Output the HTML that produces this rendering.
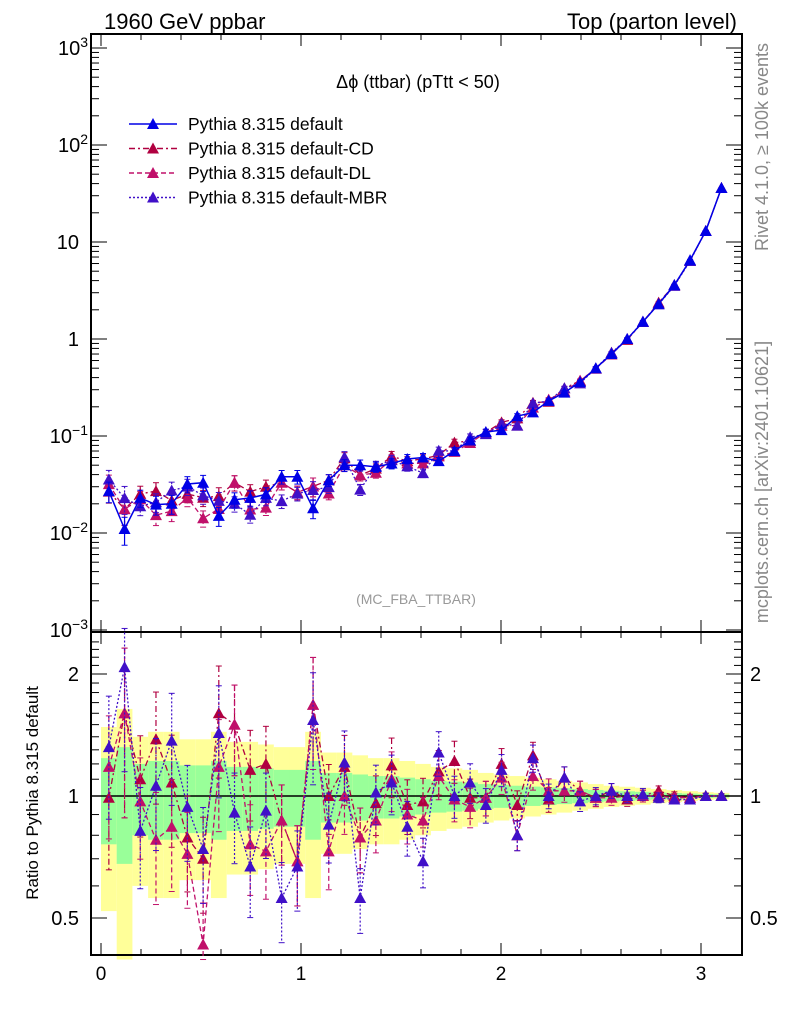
<!DOCTYPE html>
<html><head><meta charset="utf-8"><style>
body{margin:0;background:#fff;}
svg text{font-family:"Liberation Sans",sans-serif;}
</style></head><body>
<svg id="chart" width="786" height="1024" xmlns="http://www.w3.org/2000/svg">
<g id="bands"></g>
<g id="axes"></g>
<g id="series"></g>
<text x="104" y="29" font-size="22">1960 GeV ppbar</text>
<text x="737" y="29" font-size="22" text-anchor="end">Top (parton level)</text>
<text x="418" y="88" font-size="18" text-anchor="middle">Δϕ (ttbar) (pTtt &lt; 50)</text>
<text x="416" y="604" font-size="14" fill="#999" text-anchor="middle">(MC_FBA_TTBAR)</text>
<text transform="translate(768,147) rotate(-90)" font-size="18" fill="#888" text-anchor="middle">Rivet 4.1.0, ≥ 100k events</text>
<text transform="translate(768,482) rotate(-90)" font-size="18" fill="#888" text-anchor="middle">mcplots.cern.ch [arXiv:2401.10621]</text>
<text transform="translate(38,793) rotate(-90)" font-size="17" text-anchor="middle">Ratio to Pythia 8.315 default</text>
<g id="legend"></g>
</svg>
<script>
const nbins = 40;
const defVals = [0.027,0.011,0.023,0.0196,0.02,0.032,0.033,0.015,0.022,0.023,0.025,0.038,0.038,0.018,0.035,0.05,0.05,0.048,0.052,0.058,0.06,0.055,0.07,0.09,0.11,0.115,0.16,0.175,0.23,0.28,0.36,0.5,0.7,1.0,1.5,2.3,3.6,6.5,13,36];
const defErr = [0.24,0.32,0.2,0.22,0.22,0.19,0.19,0.22,0.18,0.18,0.17,0.16,0.16,0.22,0.14,0.14,0.13,0.12,0.12,0.11,0.1,0.09,0.085,0.08,0.07,0.065,0.06,0.055,0.05,0.045,0.04,0.035,0.03,0.027,0.024,0.02,0.017,0.014,0.011,0.009];
const ratioCD = [0.99,1.6,1.1,1.38,1.08,0.79,0.7,1.6,1.5,1.16,1.2,0.87,0.69,1.68,1.0,1.18,0.79,0.96,1.19,0.95,0.97,1.15,1.22,0.99,0.99,1.2,0.95,1.26,0.98,1.11,1.03,0.99,1.03,0.98,1.0,1.03,1.0,0.99,1.0,1.0];
const ratioDL = [1.18,1.6,0.97,0.78,0.84,0.72,0.43,1.18,1.5,0.76,0.73,0.87,0.69,1.68,0.73,1.0,0.79,0.87,1.1,0.9,0.87,1.12,0.98,0.94,0.99,1.11,0.8,1.12,1.03,1.03,1.03,0.99,0.99,1.0,1.0,1.0,0.99,0.99,1.0,1.0];
const ratioMBR = [1.32,2.08,0.82,1.06,1.37,0.94,0.74,1.43,0.91,0.67,0.92,0.56,0.67,1.54,0.85,1.21,0.56,1.02,1.08,0.84,0.69,1.28,1.0,1.08,0.95,1.16,0.8,1.24,1.0,1.11,0.97,1.0,1.03,1.0,1.01,0.99,0.98,0.98,1.0,1.0];
const xTicks = [0,1,2,3];
const yMainTicks = [3,2,1,0,-1,-2,-3];
const yRatioTicks = [2,1,0.5];

const NS="http://www.w3.org/2000/svg";
const X0=91,X1=742,MT=34,MB=632,RT=632,RB=955;
const xmin=-0.05,xmax=3.205;
const xs=v=>X0+(v-xmin)/(xmax-xmin)*(X1-X0);
const ys=v=>48+(3-Math.log10(v))*97;
const rmin=0.403,rmax=2.54;
const yr=v=>{v=Math.max(rmin*0.98,Math.min(rmax*1.02,v));return 674+(Math.log2(2)-Math.log2(v))*122;};
const bw=Math.PI/nbins;
function mk(tag,attrs,parent){const e=document.createElementNS(NS,tag);for(const k in attrs)e.setAttribute(k,attrs[k]);parent.appendChild(e);return e;}
const axes=document.getElementById('axes'),bands=document.getElementById('bands'),ser=document.getElementById('series'),leg=document.getElementById('legend');

for(let i=0;i<nbins;i++){
  const x0=xs(i*bw),x1=xs((i+1)*bw),s=defErr[i];
  const ylo=Math.max(1-2*s,rmin*0.9);
  let r=mk('rect',{x:x0,y:yr(1+2*s),width:x1-x0,height:yr(ylo)-yr(1+2*s),fill:'#ffff99'},bands);
  
  
  r=mk('rect',{x:x0,y:yr(1+s),width:x1-x0,height:yr(1-s)-yr(1+s),fill:'#99ff99'},bands);
  
  
}
mk('rect',{x:X0,y:MT,width:X1-X0,height:MB-MT,fill:'none',stroke:'#000','stroke-width':2},axes);
mk('rect',{x:X0,y:RT,width:X1-X0,height:RB-RT,fill:'none',stroke:'#000','stroke-width':2},axes);
mk('line',{x1:X0,x2:X1,y1:yr(1),y2:yr(1),stroke:'#000','stroke-width':1.5},axes);
for(let v=0;v<=3.2;v+=0.2){
  const big=Math.abs(v-Math.round(v))<1e-6,L=big?12:6,x=xs(v);
  [[MT,1],[MB,-1],[RT,1],[RB,-1]].forEach(([y,d])=>mk('line',{x1:x,x2:x,y1:y,y2:y+d*L,stroke:'#000','stroke-width':1},axes));
}
xTicks.forEach(v=>{const t=mk('text',{x:xs(v),y:980,'font-size':19,'text-anchor':'middle'},axes);t.textContent=v;
 });
yMainTicks.forEach(p=>{
  const y=ys(Math.pow(10,p));
  mk('line',{x1:X0,x2:X0+16,y1:y,y2:y,stroke:'#000'},axes);mk('line',{x1:X1,x2:X1-16,y1:y,y2:y,stroke:'#000'},axes);
  if(p>-3)for(let k=2;k<10;k++){const yy=ys(k*Math.pow(10,p-1));mk('line',{x1:X0,x2:X0+8,y1:yy,y2:yy,stroke:'#000'},axes);mk('line',{x1:X1,x2:X1-8,y1:yy,y2:yy,stroke:'#000'},axes);}
  const t=mk('text',{x:79,y:y+7,'font-size':20,'text-anchor':'end'},axes);
  
  if(p===1)t.textContent='10';else if(p===0)t.textContent='1';
  else{t.textContent='10';const s=mk('tspan',{dy:-8,'font-size':14},t);s.textContent=String(p).replace('-','−');t.setAttribute('x',88);}
});
for(let v=0.5;v<=2.5;v+=0.1){const y=yr(v);if(y<RT||y>RB)continue;const big=[0.5,1,2].some(b=>Math.abs(b-v)<1e-6);const L=big?16:8;
 mk('line',{x1:X0,x2:X0+L,y1:y,y2:y,stroke:'#000'},axes);mk('line',{x1:X1,x2:X1-L,y1:y,y2:y,stroke:'#000'},axes);}
yRatioTicks.forEach(v=>{[[79,'end'],[750,'start']].forEach(([x,a])=>{const t=mk('text',{x:x,y:yr(v)+7,'font-size':20,'text-anchor':a},axes);t.textContent=v;
 });});

const seriesDefs=[
 {name:'Pythia 8.315 default',key:'default',col:'#0000e6',dash:'',w:1.5,ratio:defVals.map(()=>1)},
 {name:'Pythia 8.315 default-CD',key:'cd',col:'#b00040',dash:'6,3,2,3',w:1.3,ratio:ratioCD},
 {name:'Pythia 8.315 default-DL',key:'dl',col:'#c0106a',dash:'5,3',w:1.3,ratio:ratioDL},
 {name:'Pythia 8.315 default-MBR',key:'mbr',col:'#4010c8',dash:'2,2',w:1.3,ratio:ratioMBR}];
function tri(g,x,y,c){const p=mk('polygon',{points:`${x},${y-6} ${x-6},${y+5} ${x+6},${y+5}`,fill:c},g);return p;}
[1,2,3,0].forEach(si=>{
  const s=seriesDefs[si];
  const g=mk('g',{},ser);
  let pm=[],pr=[];
  for(let i=0;i<nbins;i++){
    const x=xs((i+0.5)*bw),v=defVals[i]*s.ratio[i],r=s.ratio[i],e=defErr[i];
    pm.push(x+','+ys(v));pr.push(x+','+yr(r));
    mk('line',{x1:x,x2:x,y1:ys(v*(1+e)),y2:ys(Math.max(v*(1-e),1e-4)),stroke:s.col,'stroke-width':1.2,'stroke-dasharray':s.dash},g);
    mk('line',{x1:x-3,x2:x+3,y1:ys(v*(1+e)),y2:ys(v*(1+e)),stroke:s.col},g);
    mk('line',{x1:x-3,x2:x+3,y1:ys(v*(1-e)),y2:ys(v*(1-e)),stroke:s.col},g);
    if(si>0){const re=e*1.4;mk('line',{x1:x,x2:x,y1:yr(r*(1+re)),y2:yr(r*Math.max(1-re,0.3)),stroke:s.col,'stroke-width':1.2,'stroke-dasharray':s.dash},g);
      mk('line',{x1:x-3,x2:x+3,y1:yr(r*(1+re)),y2:yr(r*(1+re)),stroke:s.col},g);
      mk('line',{x1:x-3,x2:x+3,y1:yr(r*Math.max(1-re,0.3)),y2:yr(r*Math.max(1-re,0.3)),stroke:s.col},g);}
    let t=tri(g,x,ys(v),s.col);
    if(si>0){t=tri(g,x,yr(r),s.col);}
  }
  mk('polyline',{points:pm.join(' '),fill:'none',stroke:s.col,'stroke-width':s.w,'stroke-dasharray':s.dash},g);
  if(si>0)mk('polyline',{points:pr.join(' '),fill:'none',stroke:s.col,'stroke-width':s.w,'stroke-dasharray':s.dash},g);
});
seriesDefs.forEach((s,k)=>{
  const y=124+k*24.5;
  const g=mk('g',{},leg);
  mk('line',{x1:129,x2:177,y1:y,y2:y,stroke:s.col,'stroke-width':1.5,'stroke-dasharray':s.dash},g);
  tri(g,153,y,s.col);
  const t=mk('text',{x:188,y:y+6,'font-size':17.5},g);t.textContent=s.name;
});
</script>
</body></html>
